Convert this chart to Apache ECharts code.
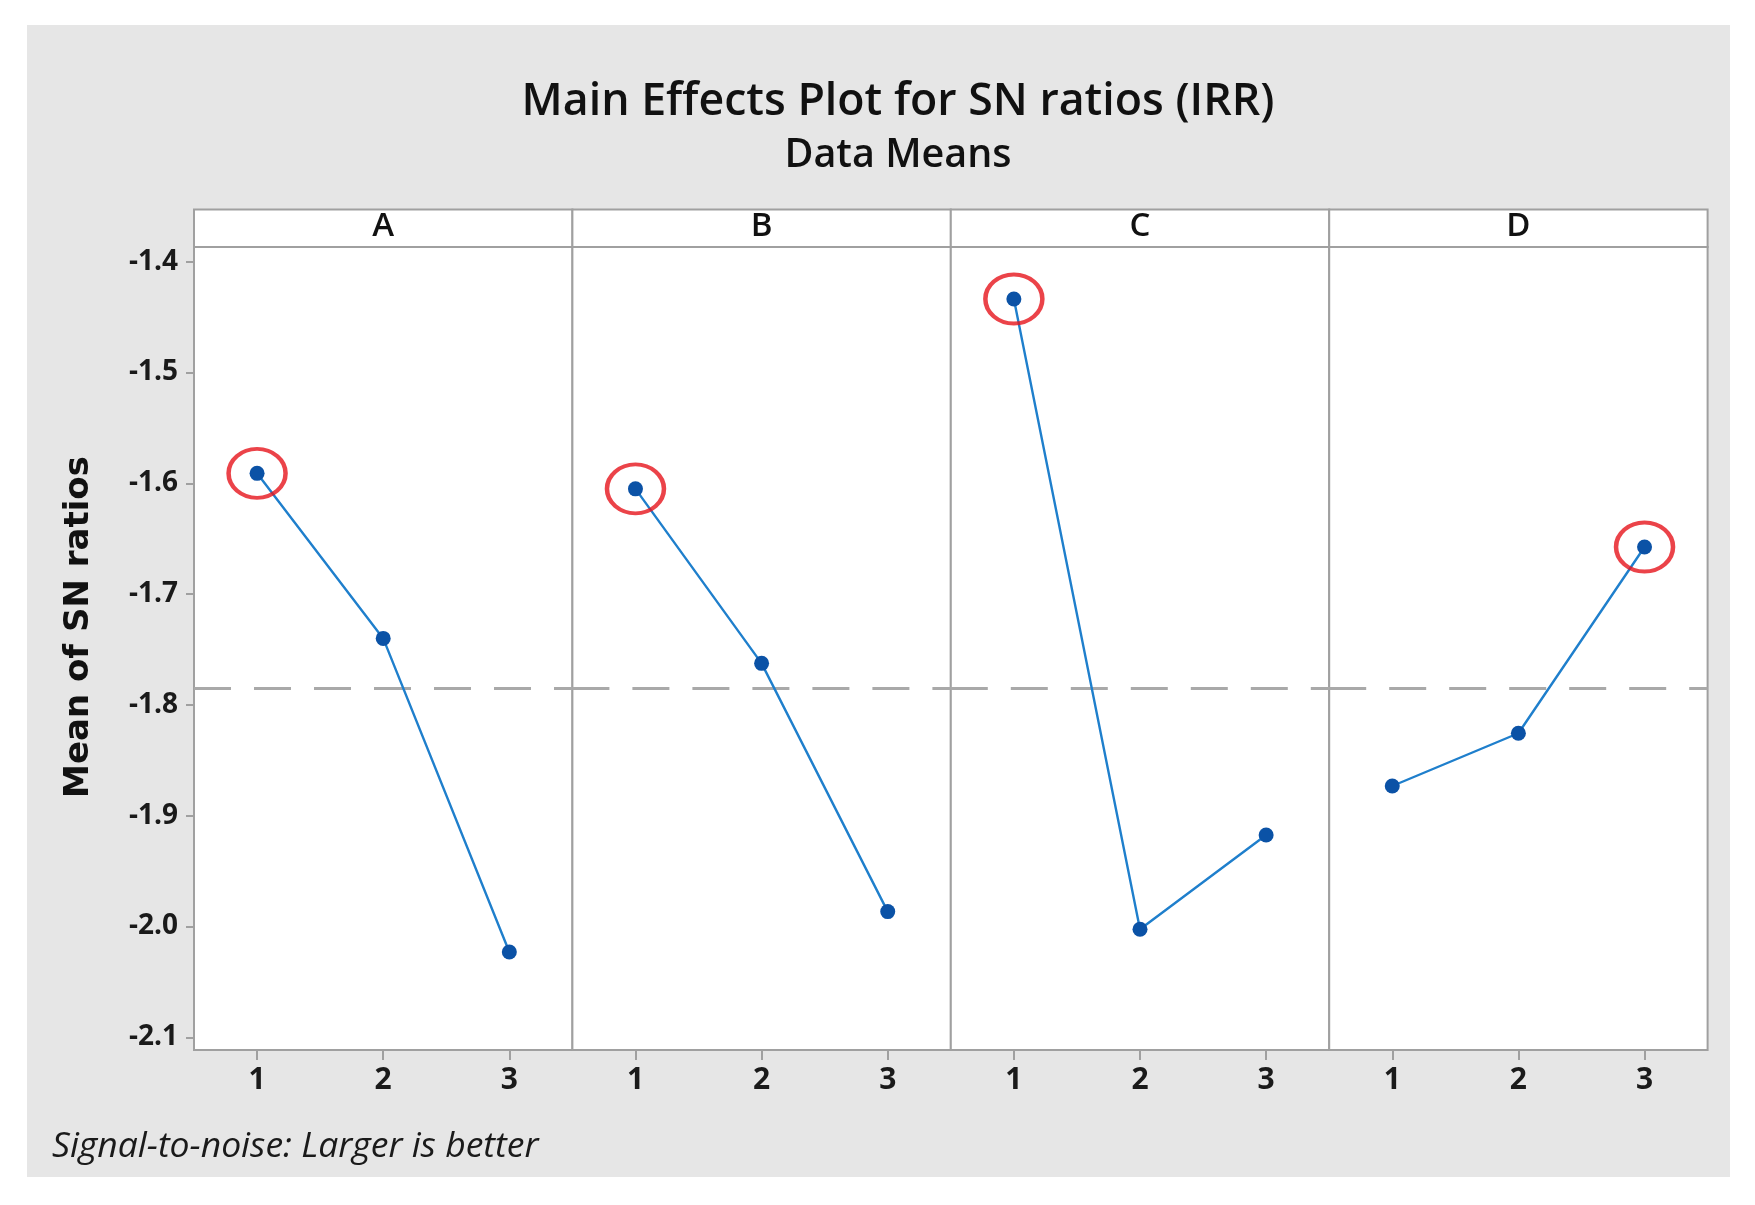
<!DOCTYPE html>
<html><head><meta charset="utf-8">
<script src="https://cdn.jsdelivr.net/npm/echarts@6/dist/echarts.min.js"></script>
<style>html,body{margin:0;padding:0;background:#fff;width:1755px;height:1205px;overflow:hidden}
#c{position:absolute;left:27px;top:25px;width:1703px;height:1152px}</style>
</head><body><div id="c"></div>
<script>
// ---- data ----
const factors = ['A', 'B', 'C', 'D'];
const levels = [1, 2, 3];
const snA = [-1.591, -1.740, -2.023];
const snB = [-1.605, -1.7625, -1.9866];
const snC = [-1.4337, -2.0025, -1.9174];
const snD = [-1.8732, -1.8256, -1.6575];
const yTicks = [-2.1, -2.0, -1.9, -1.8, -1.7, -1.6, -1.5, -1.4];
const xTicks = [1, 2, 3];
const titleText = 'Main Effects Plot for SN ratios (IRR)';
const subtitleText = 'Data Means';
const yTitle = 'Mean of SN ratios';
const footText = 'Signal-to-noise: Larger is better';

const allSeries = [snA, snB, snC, snD];
const flat = allSeries.flat();
const grandMean = flat.reduce((a, b) => a + b, 0) / flat.length;

// ---- layout (chart coords; chart div offset 27,25) ----
const OX = 27, OY = 25;
const gLeft = 194 - OX, gTop = 247 - OY, gW = 378.4, gH = 1050 - 247;
const FONT = '"Open Sans", "Noto Sans", sans-serif';
const frameColor = '#a0a0a0';

const grids = [], xAxes = [], yAxes = [], series = [], graphics = [];
factors.forEach((f, i) => {
  grids.push({ left: gLeft + i * gW, top: gTop, width: gW, height: gH, show: true,
    backgroundColor: '#fff', borderColor: frameColor, borderWidth: 2 });
  xAxes.push({ type: 'value', gridIndex: i, min: 0.5, max: 3.5,
    axisLine: { show: false }, splitLine: { show: false },
    axisTick: { show: true, customValues: xTicks, length: 10, lineStyle: { color: frameColor, width: 2 } },
    axisLabel: { customValues: xTicks, margin: 15, fontSize: 30, fontFamily: FONT, fontWeight: 700, color: '#1a1a1a' } });
  yAxes.push({ type: 'value', gridIndex: i, min: -2.1115, max: -1.3867, show: i === 0,
    axisLine: { show: false }, splitLine: { show: false },
    axisTick: { show: true, customValues: yTicks, length: 8, lineStyle: { color: frameColor, width: 2 } },
    axisLabel: { customValues: yTicks, margin: 16, fontSize: 28, fontFamily: FONT, fontWeight: 700, color: '#1a1a1a',
      formatter: v => v.toFixed(1) } });
  const vals = allSeries[i];
  series.push({ type: 'line', xAxisIndex: i, yAxisIndex: i, data: levels.map((l, k) => [l, vals[k]]),
    symbol: 'circle', symbolSize: 15, z: 5,
    lineStyle: { color: '#1f7fcc', width: 2.4 }, itemStyle: { color: '#0b52a6' },
    markLine: { silent: true, symbol: 'none', precision: 6, label: { show: false }, z: 2,
      lineStyle: { type: [37, 23], color: '#a9a9a9', width: 3 },
      data: [{ yAxis: grandMean }] } });
  let best = 0;
  vals.forEach((v, k) => { if (v > vals[best]) best = k; });
  series.push({ type: 'scatter', xAxisIndex: i, yAxisIndex: i, data: [[levels[best], vals[best]]],
    symbol: 'circle', symbolSize: [57, 49], z: 6,
    itemStyle: { color: 'rgba(0,0,0,0)', borderColor: '#e6141c', borderWidth: 4.2 } });
  graphics.push({ type: 'rect', shape: { x: gLeft + i * gW, y: 209.5 - OY, width: gW, height: 37.5 },
    style: { fill: '#fff', stroke: frameColor, lineWidth: 2 }, z: 10 });
  graphics.push({ type: 'text', x: gLeft + i * gW + gW / 2, y: 227 - OY, z: 11,
    style: { text: f, fontSize: 33, fontFamily: FONT, fontWeight: 600, fill: '#111', align: 'center', verticalAlign: 'middle' } });
});
graphics.push({ type: 'text', x: 79 - OX, y: 627 - OY, rotation: Math.PI / 2, z: 11,
  style: { text: yTitle, fontSize: 34, fontFamily: '"DejaVu Sans", sans-serif', fontWeight: 'bold', fill: '#111', align: 'center', verticalAlign: 'middle' } });
graphics.push({ type: 'text', x: 52 - OX, y: 1147 - OY, z: 11,
  style: { text: footText, fontSize: 35.5, fontFamily: FONT, fontStyle: 'italic', fill: '#1a1a1a', align: 'left', verticalAlign: 'middle' } });

const chart = echarts.init(document.getElementById('c'));
chart.setOption({
  backgroundColor: '#e6e6e6',
  animation: false,
  title: { text: titleText, subtext: subtitleText, left: 893 - OX, textAlign: 'center', top: 50, itemGap: 11,
    textStyle: { fontSize: 44.7, fontFamily: FONT, fontWeight: 600, color: '#111' },
    subtextStyle: { fontSize: 39.5, fontFamily: FONT, fontWeight: 600, color: '#111' } },
  grid: grids, xAxis: xAxes, yAxis: yAxes, series: series, graphic: graphics
});
</script></body></html>
